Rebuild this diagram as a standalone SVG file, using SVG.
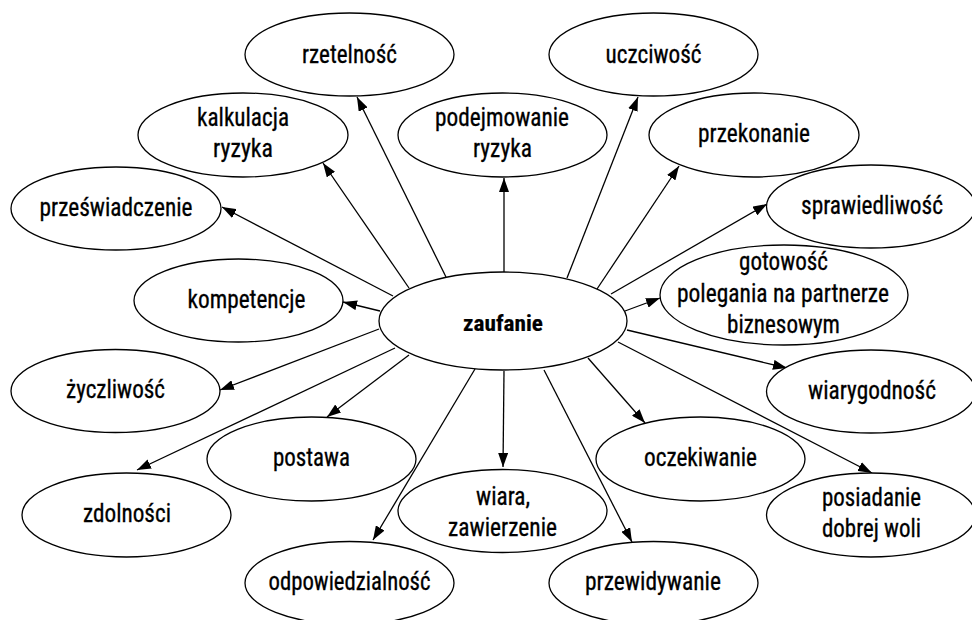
<svg xmlns="http://www.w3.org/2000/svg" width="972" height="620" viewBox="0 0 972 620">
<style>
ellipse{fill:#fff;stroke:#000;stroke-width:1.3}
text{font-family:"Roboto Condensed","Liberation Sans Narrow",Roboto,"Liberation Sans",sans-serif;font-size:25px;font-weight:400;fill:#000;stroke:#000;stroke-width:0.3;text-anchor:middle}
text.b{font-weight:bold;font-size:22px;stroke-width:0.2}
.e line{stroke:#000;stroke-width:1.3;marker-end:url(#ah)}
</style>
<defs>
<marker id="ah" markerUnits="userSpaceOnUse" markerWidth="14" markerHeight="10" refX="14" refY="5" orient="auto">
<path d="M0,0 L14,5 L0,10 z" fill="#000"/>
</marker>
</defs>
<rect width="972" height="620" fill="#fff"/>
<g id="connectors" class="e">
<line x1="446" y1="277" x2="357" y2="97"/>
<line x1="409" y1="288" x2="323" y2="163"/>
<line x1="393" y1="296" x2="222" y2="207"/>
<line x1="380" y1="311" x2="343" y2="302"/>
<line x1="504" y1="272" x2="504" y2="178"/>
<line x1="567" y1="278" x2="638" y2="97"/>
<line x1="597" y1="289" x2="679" y2="166"/>
<line x1="611" y1="294" x2="767" y2="204"/>
<line x1="625" y1="311" x2="660" y2="298"/>
<line x1="627" y1="330" x2="787" y2="368"/>
<line x1="618" y1="342" x2="872" y2="473"/>
<line x1="588" y1="358" x2="645" y2="423"/>
<line x1="544" y1="370" x2="632" y2="542"/>
<line x1="504" y1="371" x2="503" y2="467"/>
<line x1="475" y1="369" x2="373" y2="540"/>
<line x1="409" y1="355" x2="327" y2="417"/>
<line x1="395" y1="348" x2="137" y2="470"/>
<line x1="379" y1="329" x2="220" y2="390"/>
</g>
<g id="zaufanie"><ellipse cx="503" cy="321" rx="124" ry="49"/><text class="b" x="503" y="331" textLength="80" lengthAdjust="spacingAndGlyphs">zaufanie</text></g>
<g id="rzetelnosc"><ellipse cx="349.5" cy="54.5" rx="104.5" ry="41.5"/><text x="349.5" y="62.5" textLength="95" lengthAdjust="spacingAndGlyphs">rzetelność</text></g>
<g id="kalkulacja"><ellipse cx="243" cy="135" rx="105" ry="42"/><text x="243" y="126" textLength="92" lengthAdjust="spacingAndGlyphs">kalkulacja</text><text x="243" y="157" textLength="60" lengthAdjust="spacingAndGlyphs">ryzyka</text></g>
<g id="przeswiadczenie"><ellipse cx="116" cy="208.5" rx="105" ry="41.5"/><text x="116" y="215.5" textLength="153" lengthAdjust="spacingAndGlyphs">przeświadczenie</text></g>
<g id="kompetencje"><ellipse cx="238.5" cy="300.5" rx="104.5" ry="41.5"/><text x="246.5" y="307.5" textLength="118" lengthAdjust="spacingAndGlyphs">kompetencje</text></g>
<g id="podejmowanie"><ellipse cx="502.5" cy="135" rx="104.5" ry="42"/><text x="502" y="126" textLength="134" lengthAdjust="spacingAndGlyphs">podejmowanie</text><text x="502.5" y="157" textLength="59" lengthAdjust="spacingAndGlyphs">ryzyka</text></g>
<g id="uczciwosc"><ellipse cx="653.5" cy="54.5" rx="104.5" ry="41.5"/><text x="653.5" y="62.5" textLength="96" lengthAdjust="spacingAndGlyphs">uczciwość</text></g>
<g id="przekonanie"><ellipse cx="754" cy="135" rx="105" ry="42"/><text x="754" y="142" textLength="112" lengthAdjust="spacingAndGlyphs">przekonanie</text></g>
<g id="sprawiedliwosc"><ellipse cx="871" cy="206.5" rx="104.5" ry="41.5"/><text x="872" y="213.5" textLength="142" lengthAdjust="spacingAndGlyphs">sprawiedliwość</text></g>
<g id="gotowosc"><ellipse cx="784" cy="295" rx="124" ry="50"/><text x="783.5" y="270" textLength="89" lengthAdjust="spacingAndGlyphs">gotowość</text><text x="783" y="301.5" textLength="212" lengthAdjust="spacingAndGlyphs">polegania na partnerze</text><text x="783.5" y="332.5" textLength="113" lengthAdjust="spacingAndGlyphs">biznesowym</text></g>
<g id="zyczliwosc"><ellipse cx="115.5" cy="391" rx="104.5" ry="41.5"/><text x="115.5" y="398" textLength="99" lengthAdjust="spacingAndGlyphs">życzliwość</text></g>
<g id="wiarygodnosc"><ellipse cx="871" cy="391.5" rx="104.5" ry="41.5"/><text x="872" y="398.5" textLength="128" lengthAdjust="spacingAndGlyphs">wiarygodność</text></g>
<g id="postawa"><ellipse cx="311.5" cy="459" rx="104.5" ry="42"/><text x="311.5" y="466" textLength="77" lengthAdjust="spacingAndGlyphs">postawa</text></g>
<g id="oczekiwanie"><ellipse cx="700.5" cy="459" rx="104.5" ry="42"/><text x="700.5" y="466" textLength="113" lengthAdjust="spacingAndGlyphs">oczekiwanie</text></g>
<g id="zdolnosci"><ellipse cx="126.5" cy="515" rx="104.5" ry="42"/><text x="127" y="522" textLength="88" lengthAdjust="spacingAndGlyphs">zdolności</text></g>
<g id="wiara"><ellipse cx="502.5" cy="511" rx="104.5" ry="41.5"/><text x="503" y="505" textLength="54" lengthAdjust="spacingAndGlyphs">wiara,</text><text x="502.5" y="536" textLength="109" lengthAdjust="spacingAndGlyphs">zawierzenie</text></g>
<g id="posiadanie"><ellipse cx="871" cy="515" rx="104.5" ry="42"/><text x="871.5" y="506" textLength="99" lengthAdjust="spacingAndGlyphs">posiadanie</text><text x="871.5" y="537" textLength="99" lengthAdjust="spacingAndGlyphs">dobrej woli</text></g>
<g id="odpowiedzialnosc"><ellipse cx="349.5" cy="583" rx="104.5" ry="41.5"/><text x="349.5" y="590" textLength="162" lengthAdjust="spacingAndGlyphs">odpowiedzialność</text></g>
<g id="przewidywanie"><ellipse cx="653.5" cy="583" rx="104.5" ry="41.5"/><text x="653" y="590" textLength="136" lengthAdjust="spacingAndGlyphs">przewidywanie</text></g>
</svg>
